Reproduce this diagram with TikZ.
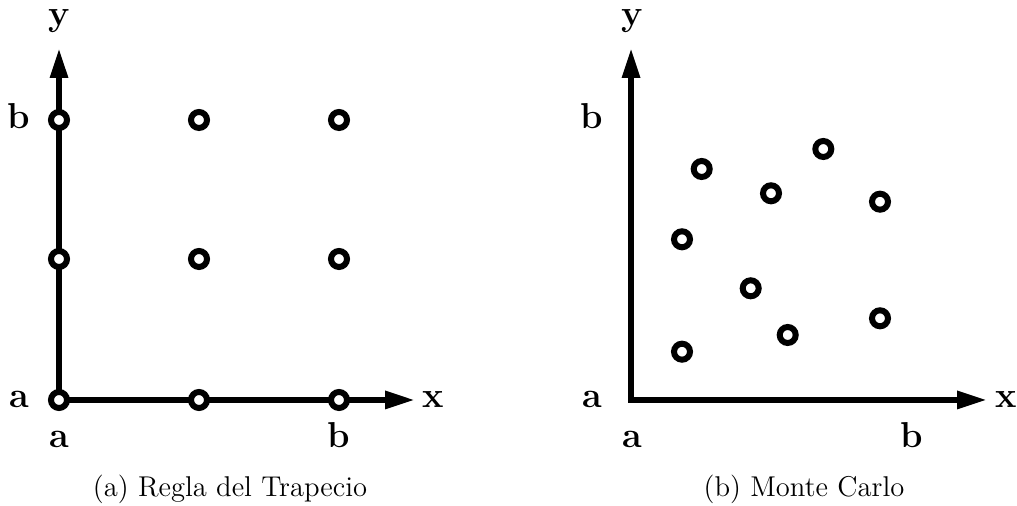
\documentclass[tikz,border=0pt]{standalone}
\usetikzlibrary{arrows.meta}
\begin{document}
\begin{tikzpicture}[x=0.5pt,y=-0.5pt,
  axis/.style={line width=3pt, line join=miter, {Triangle[length=15pt,width=8.5pt]}-{Triangle[length=15pt,width=8.5pt]}},
  smp/.style={circle, draw=black, fill=white, line width=3pt, minimum size=8pt, inner sep=0pt},
  lbl/.style={anchor=base, inner sep=0pt, font=\fontsize{18}{20}\selectfont\bfseries},
  captext/.style={anchor=base, inner sep=0pt, font=\fontsize{14.3}{16}\selectfont}]
\useasboundingbox (0,0) rectangle (1017,506);
% left panel
\coordinate (oL) at (59,400);
\coordinate (yL) at (59,48);
\coordinate (xL) at (415,400);
\draw[axis] (yL) -- (oL) -- (xL);
\foreach \i/\x in {1/59,2/199,3/339}{
  \foreach \j/\y in {1/400,2/259,3/120}{
    \node[smp] (t\i\j) at (\x,\y) {};
  }
}
\node[lbl] (lyL) at (59,26) {y};
\node[lbl] (lbL) at (19,129) {b};
\node[lbl] (laL) at (19,408) {a};
\node[lbl] (lxL) at (433,408) {x};
\node[lbl] (laLb) at (59,448) {a};
\node[lbl] (lbLb) at (339,448) {b};
\node[captext] (capL) at (230,497) {(a) Regla del Trapecio};
% right panel
\coordinate (oR) at (631,400);
\coordinate (yR) at (631,48);
\coordinate (xR) at (987,400);
\draw[axis] (yR) -- (oR) -- (xR);
\node[smp] (m1) at (701.7,169) {};
\node[smp] (m2) at (823.3,149) {};
\node[smp] (m3) at (771,193.3) {};
\node[smp] (m4) at (880,201.7) {};
\node[smp] (m5) at (682,239.3) {};
\node[smp] (m6) at (750.7,288.3) {};
\node[smp] (m7) at (880,318.3) {};
\node[smp] (m8) at (787.7,335) {};
\node[smp] (m9) at (682,351.7) {};
\node[lbl] (lyR) at (632,26) {y};
\node[lbl] (lbR) at (592,129) {b};
\node[lbl] (laR) at (592,408) {a};
\node[lbl] (lxR) at (1006,408) {x};
\node[lbl] (laRb) at (632,448) {a};
\node[lbl] (lbRb) at (912,448) {b};
\node[captext] (capR) at (804,497) {(b) Monte Carlo};
\end{tikzpicture}
\end{document}
